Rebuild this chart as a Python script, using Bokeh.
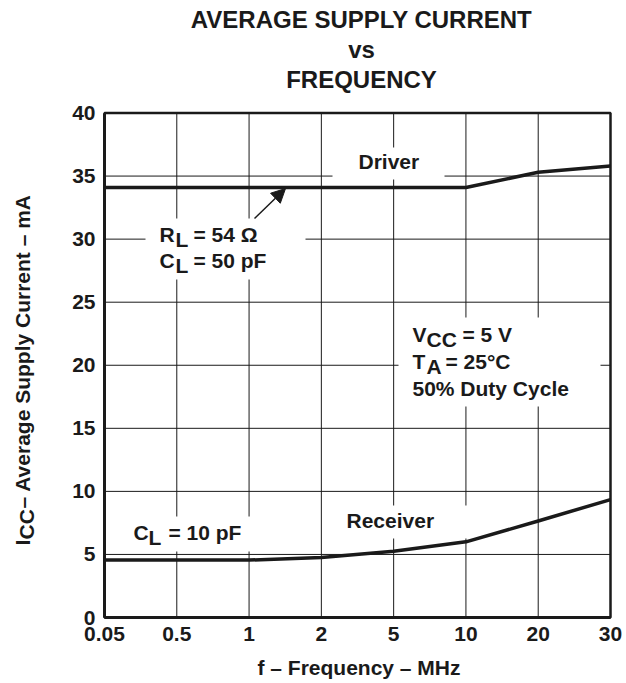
import math
from bokeh.plotting import figure
from bokeh.models import Range1d, FixedTicker, Label, BoxAnnotation, Arrow, NormalHead
from bokeh.embed import file_html
from bokeh.resources import INLINE

# ---- data ----
freq_labels = ["0.05", "0.5", "1", "2", "5", "10", "20", "30"]   # MHz, evenly spaced on the chart
driver_ma = [34.1, 34.1, 34.1, 34.1, 34.1, 34.1, 35.3, 35.8]
receiver_ma = [4.55, 4.55, 4.55, 4.75, 5.25, 6.0, 7.65, 9.35]
y_ticks = [0, 5, 10, 15, 20, 25, 30, 35, 40]

x_pos = list(range(len(freq_labels)))
n_int = x_pos[-1] - x_pos[0]
y_lo, y_hi = y_ticks[0], y_ticks[-1]

# ---- layout (canvas pixels) ----
W, H = 626, 683
L, R, T, B = 104, 610, 112.5, 617          # where the plot box sits on the canvas
px_x = (R - L) / n_int
px_y = (B - T) / (y_hi - y_lo)

FONT = "Liberation Sans"
INK = "#1a1a1a"
FS = 21

p = figure(width=W, height=H, output_backend="svg", toolbar_location=None,
           x_range=Range1d(x_pos[0] - L / px_x, x_pos[-1] + (W - R) / px_x),
           y_range=Range1d(y_lo - (H - B) / px_y, y_hi + T / px_y),
           min_border=0)
p.background_fill_color = "white"
p.border_fill_color = "white"
p.outline_line_color = None
p.grid.visible = False

# axes, pinned to the plot box
p.xaxis.ticker = FixedTicker(ticks=x_pos)
p.xaxis.major_label_overrides = {i: s for i, s in enumerate(freq_labels)}
p.yaxis.ticker = FixedTicker(ticks=y_ticks)
p.xaxis.fixed_location = y_lo
p.yaxis.fixed_location = x_pos[0]
p.xaxis.bounds = (x_pos[0], x_pos[-1])
p.yaxis.bounds = (y_lo, y_hi)
for ax in (p.xaxis, p.yaxis):
    ax.major_tick_in = 0
    ax.major_tick_out = 0
    ax.minor_tick_line_color = None
    ax.axis_line_color = INK
    ax.axis_line_width = 3
    ax.major_label_text_font = FONT
    ax.major_label_text_font_size = f"{FS}px"
    ax.major_label_text_font_style = "bold"
    ax.major_label_text_color = INK
p.xaxis.major_label_standoff = 9
p.yaxis.major_label_standoff = 9

# grid lines (below the knock-out boxes)
p.segment(x0=x_pos[1:-1], y0=[y_lo] * (len(x_pos) - 2), x1=x_pos[1:-1], y1=[y_hi] * (len(x_pos) - 2),
          line_color=INK, line_width=1, level="underlay")
p.segment(x0=[x_pos[0]] * (len(y_ticks) - 2), y0=y_ticks[1:-1], x1=[x_pos[-1]] * (len(y_ticks) - 2), y1=y_ticks[1:-1],
          line_color=INK, line_width=1, level="underlay")

def xd(px):
    return x_pos[0] + (px - L) / px_x

def yd(py):
    return y_lo + (B - py) / px_y

# white knock-out boxes behind the annotations (interrupt the grid)
def knock(x0, x1, y0, y1):
    p.add_layout(BoxAnnotation(left=xd(x0), right=xd(x1), bottom=yd(y1), top=yd(y0),
                               fill_color="white", fill_alpha=1, line_color=None, level="underlay"))

knock(145, 305, 218, 279)     # R_L / C_L
knock(332, 444, 147, 179)     # Driver
knock(398, 600, 317, 406)     # conditions
knock(115, 256, 516, 551)     # C_L = 10 pF
knock(335, 470, 505, 538)     # Receiver

# plot box
p.quad(left=x_pos[0], right=x_pos[-1], bottom=y_lo, top=y_hi,
       fill_color=None, line_color=INK, line_width=2.5)

# curves
p.line(x_pos, driver_ma, line_width=3.5, line_color=INK, line_join="round")
p.line(x_pos, receiver_ma, line_width=3.5, line_color=INK, line_join="round")

# arrow
p.add_layout(Arrow(end=NormalHead(size=14, fill_color=INK, line_color=INK),
                   x_start=xd(254), y_start=yd(218), x_end=xd(285), y_end=yd(188),
                   line_width=1.5, line_color=INK))

MID = 0.3465   # em-box middle above the baseline, in em

def lab(text, px, base, dx=0, dy=0, size=FS, align="left"):
    """px = left/centre x, base = baseline y (canvas pixels)"""
    p.add_layout(Label(x=xd(px), y=yd(base - MID * size), x_offset=dx, y_offset=dy, text=text,
                       text_font=FONT, text_font_size=f"{size}px", text_font_style="bold",
                       text_color=INK, text_align=align, text_baseline="middle"))

def vlab(text, base_x, py, dx=0, dy=0, size=FS):
    """rotated text reading upwards; base_x = baseline x, py = start y (canvas pixels)"""
    p.add_layout(Label(x=xd(base_x - MID * size), y=yd(py), x_offset=dx, y_offset=dy, text=text,
                       text_font=FONT, text_font_size=f"{size}px", text_font_style="bold",
                       text_color=INK, text_align="left", text_baseline="middle",
                       angle=math.pi / 2))

# title
lab("AVERAGE SUPPLY CURRENT", 361, 27, size=24, align="center")
lab("vs", 361, 57, size=24, align="center")
lab("FREQUENCY", 361, 87, size=24, align="center")

# x-axis label
lab("f \u2013 Frequency \u2013 MHz", 358.5, 674, align="center")

# y-axis label (rotated, with subscript)
vlab("I", 29.5, 545)
vlab("CC", 29.5, 545, dx=4, dy=6)
vlab("\u2013 Average Supply Current \u2013 mA", 29.5, 545, dy=37)

# R_L / C_L
lab("R", 159, 241)
lab("L", 159, 241, dx=16, dy=-5)
lab("= 54 \u03a9", 159, 241, dx=34)
lab("C", 159, 267)
lab("L", 159, 267, dx=16, dy=-5)
lab("= 50 pF", 159, 267, dx=34)

lab("Driver", 358, 168)
lab("Receiver", 346, 527)

lab("C", 133, 539)
lab("L", 133, 539, dx=15, dy=-5)
lab("= 10 pF", 133, 539, dx=35)

# test conditions
lab("V", 412, 341)
lab("CC", 412, 341, dx=14, dy=-5)
lab("= 5 V", 412, 341, dx=50)
lab("T", 412, 368)
lab("A", 412, 368, dx=14, dy=-5)
lab("= 25\u00b0C", 412, 368, dx=33)
lab("50% Duty Cycle", 412, 395)

open("out.html", "w").write(file_html(p, INLINE))
